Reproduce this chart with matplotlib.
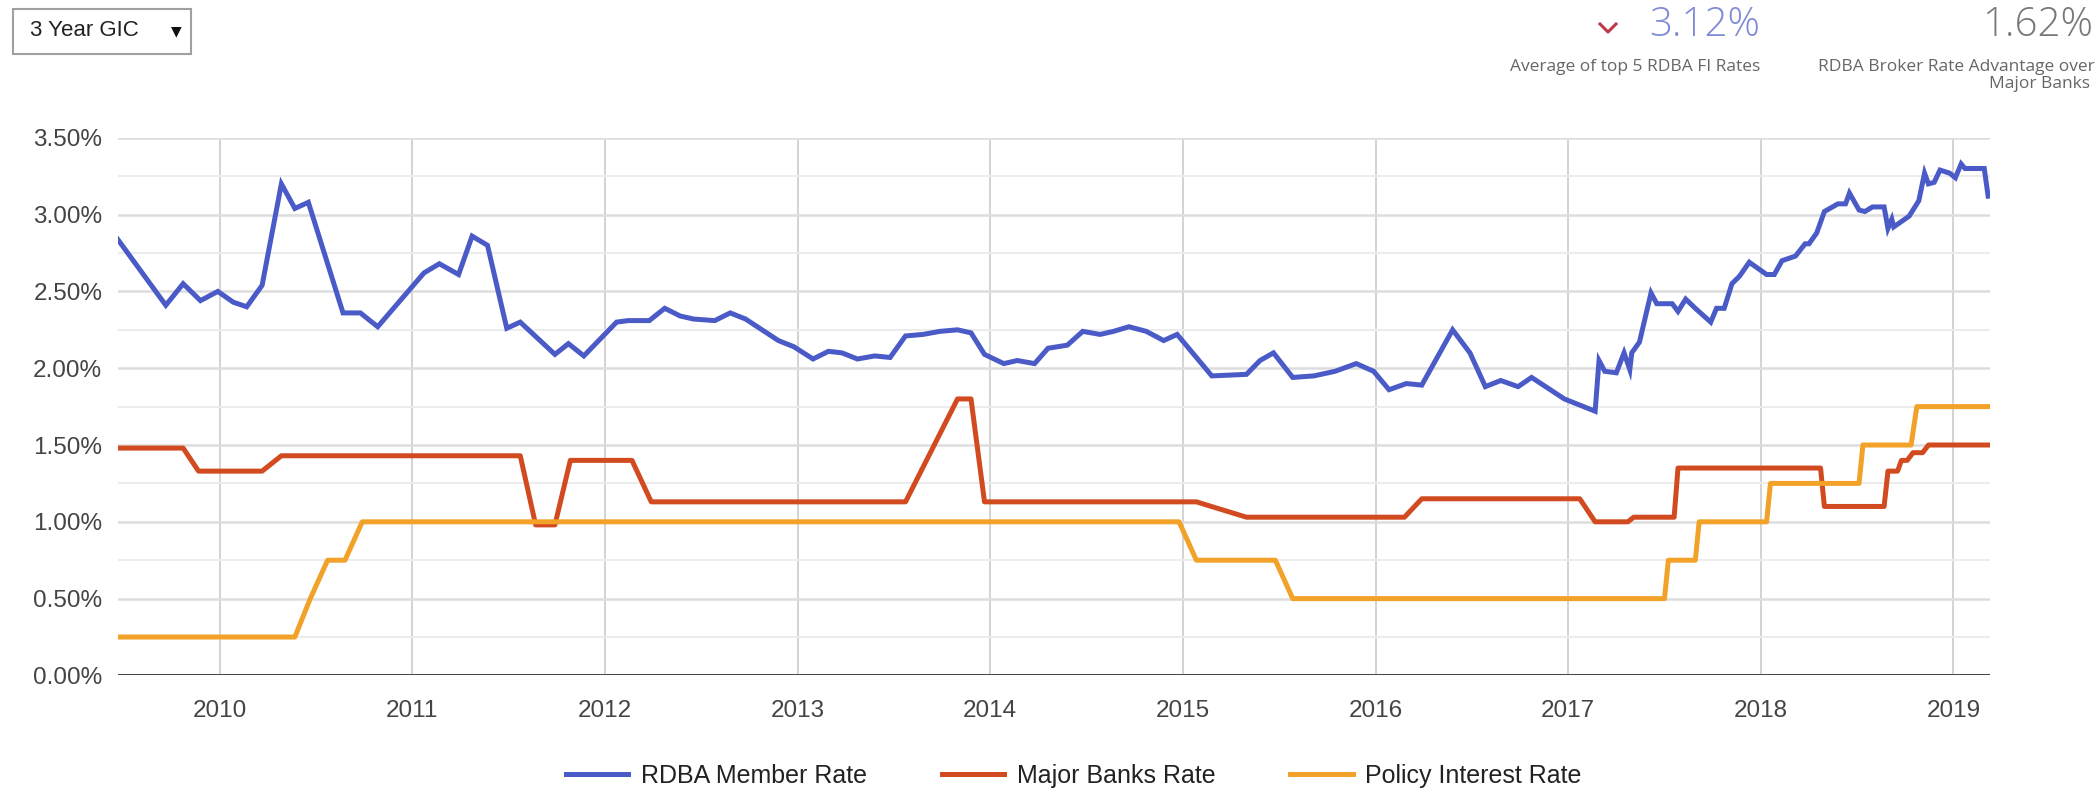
import matplotlib.pyplot as plt
from matplotlib.lines import Line2D
from matplotlib.patches import Rectangle
from matplotlib.ticker import FuncFormatter, MultipleLocator

# decimal-year dates, rates in %
member_x = [2009.47, 2009.72, 2009.81, 2009.90, 2009.99, 2010.07, 2010.14, 2010.22, 2010.32, 2010.39,
            2010.46, 2010.64, 2010.73, 2010.82, 2011.06, 2011.14, 2011.24, 2011.31, 2011.39, 2011.49,
            2011.56, 2011.74, 2011.81, 2011.89, 2012.06, 2012.12, 2012.23, 2012.31, 2012.39, 2012.46,
            2012.57, 2012.65, 2012.73, 2012.90, 2012.98, 2013.08, 2013.16, 2013.23, 2013.31, 2013.40,
            2013.48, 2013.56, 2013.65, 2013.74, 2013.83, 2013.90, 2013.97, 2014.07, 2014.14, 2014.23,
            2014.30, 2014.40, 2014.48, 2014.57, 2014.64, 2014.72, 2014.81, 2014.90, 2014.97, 2015.15,
            2015.33, 2015.40, 2015.47, 2015.57, 2015.68, 2015.79, 2015.90, 2015.99, 2016.07, 2016.16,
            2016.24, 2016.40, 2016.49, 2016.57, 2016.65, 2016.74, 2016.81, 2016.98, 2017.14, 2017.16,
            2017.19, 2017.25, 2017.29, 2017.32, 2017.33, 2017.37, 2017.43, 2017.46, 2017.54, 2017.57,
            2017.61, 2017.66, 2017.74, 2017.77, 2017.81, 2017.85, 2017.89, 2017.94, 2018.03, 2018.07,
            2018.11, 2018.18, 2018.23, 2018.25, 2018.29, 2018.33, 2018.40, 2018.44, 2018.46, 2018.51,
            2018.54, 2018.58, 2018.64, 2018.66, 2018.68, 2018.69, 2018.77, 2018.82, 2018.85, 2018.87,
            2018.90, 2018.93, 2018.98, 2019.01, 2019.04, 2019.06, 2019.16, 2019.18]
member_y = [2.84, 2.41, 2.55, 2.44, 2.50, 2.43, 2.40, 2.54, 3.20, 3.04,
            3.08, 2.36, 2.36, 2.27, 2.62, 2.68, 2.61, 2.86, 2.80, 2.26,
            2.30, 2.09, 2.16, 2.08, 2.30, 2.31, 2.31, 2.39, 2.34, 2.32,
            2.31, 2.36, 2.32, 2.18, 2.14, 2.06, 2.11, 2.10, 2.06, 2.08,
            2.07, 2.21, 2.22, 2.24, 2.25, 2.23, 2.09, 2.03, 2.05, 2.03,
            2.13, 2.15, 2.24, 2.22, 2.24, 2.27, 2.24, 2.18, 2.22, 1.95,
            1.96, 2.05, 2.10, 1.94, 1.95, 1.98, 2.03, 1.98, 1.86, 1.90,
            1.89, 2.25, 2.10, 1.88, 1.92, 1.88, 1.94, 1.80, 1.72, 2.05,
            1.98, 1.97, 2.10, 1.99, 2.10, 2.17, 2.49, 2.42, 2.42, 2.37,
            2.45, 2.39, 2.30, 2.39, 2.39, 2.55, 2.60, 2.69, 2.61, 2.61,
            2.70, 2.73, 2.81, 2.81, 2.88, 3.02, 3.07, 3.07, 3.14, 3.03,
            3.02, 3.05, 3.05, 2.91, 2.97, 2.92, 2.99, 3.09, 3.27, 3.20,
            3.21, 3.29, 3.27, 3.24, 3.33, 3.30, 3.30, 3.12]

banks_x = [2009.47, 2009.81, 2009.89, 2010.22, 2010.32, 2011.56, 2011.64, 2011.74, 2011.82, 2012.14,
           2012.24, 2013.56, 2013.83, 2013.90, 2013.97, 2015.07, 2015.33, 2016.15, 2016.24, 2017.06,
           2017.14, 2017.31, 2017.34, 2017.55, 2017.57, 2018.31, 2018.33, 2018.64, 2018.66, 2018.71,
           2018.73, 2018.76, 2018.79, 2018.84, 2018.87, 2019.18]
banks_y = [1.48, 1.48, 1.33, 1.33, 1.43, 1.43, 0.98, 0.98, 1.40, 1.40,
           1.13, 1.13, 1.80, 1.80, 1.13, 1.13, 1.03, 1.03, 1.15, 1.15,
           1.00, 1.00, 1.03, 1.03, 1.35, 1.35, 1.10, 1.10, 1.33, 1.33,
           1.40, 1.40, 1.45, 1.45, 1.50, 1.50]

policy_x = [2009.47, 2010.39, 2010.47, 2010.56, 2010.65, 2010.74, 2014.98, 2015.07, 2015.48, 2015.57,
            2017.50, 2017.52, 2017.66, 2017.68, 2018.03, 2018.05, 2018.51, 2018.53, 2018.78, 2018.81,
            2019.18]
policy_y = [0.25, 0.25, 0.50, 0.75, 0.75, 1.00, 1.00, 0.75, 0.75, 0.50,
            0.50, 0.75, 0.75, 1.00, 1.00, 1.25, 1.25, 1.50, 1.50, 1.75,
            1.75]

years = list(range(2010, 2020))
product = '3 Year GIC'
avg_top5 = '3.12%'
advantage = '1.62%'

plt.rcParams['font.family'] = ['Liberation Sans', 'DejaVu Sans']

fig = plt.figure(figsize=(20.97, 7.92), dpi=100)
ax = fig.add_axes([0.0561, 0.1472, 0.8929, 0.6788])

ax.plot(member_x, member_y, color='#4a5bc8', lw=3.6, label='RDBA Member Rate', solid_joinstyle='miter')
ax.plot(banks_x, banks_y, color='#d24a1f', lw=3.6, label='Major Banks Rate')
ax.plot(policy_x, policy_y, color='#f2a229', lw=3.6, label='Policy Interest Rate')

ax.set_xlim(2009.47, 2019.19)
ax.set_ylim(0, 3.5)
ax.set_xticks(years)
ax.yaxis.set_major_locator(MultipleLocator(0.5))
ax.yaxis.set_minor_locator(MultipleLocator(0.25))
ax.yaxis.set_major_formatter(FuncFormatter(lambda v, p: f'{v:.2f}%'))

ax.grid(axis='x', color='#cccccc', lw=1.2)
ax.grid(axis='y', which='major', color='#dddddd', lw=1.8)
ax.grid(axis='y', which='minor', color='#ececec', lw=1.4)
ax.set_axisbelow(True)
ax.axhline(0, color='#333333', lw=2, zorder=3)

for s in ax.spines.values():
    s.set_visible(False)
ax.tick_params(axis='both', which='both', length=0, labelsize=17.5, labelcolor='#444444')
ax.tick_params(axis='y', pad=11)
ax.tick_params(axis='x', pad=18)

fig.legend(loc='center', bbox_to_anchor=(0.512, 0.02), ncol=3, frameon=False,
           fontsize=18, handlelength=2.5, columnspacing=3.0, handletextpad=0.5,
           labelcolor='#222222')

# dropdown box top-left
fig.patches.append(Rectangle((13 / 2097, 1 - 54 / 792), 178 / 2097, 45 / 792,
                             transform=fig.transFigure, fill=False, ec='#a0a0a0', lw=1.5))
fig.text(30 / 2097, 1 - 31 / 792, product, fontsize=16, color='#222222', va='center')
fig.text(176 / 2097, 1 - 31 / 792, '\u25bc', fontsize=10, color='#111111', va='center', ha='center',
         family=['DejaVu Sans'])

# summary figures top-right
fig.text(1760 / 2097, 1 - 26 / 792, avg_top5, fontsize=29, color='#7f8ad6', ha='right', va='center',
         family=['Open Sans', 'DejaVu Sans'], fontweight='light')
fig.add_artist(Line2D([1600 / 2097, 1608 / 2097, 1616 / 2097], [1 - 24 / 792, 1 - 32 / 792, 1 - 24 / 792],
                      transform=fig.transFigure, color='#c0394a', lw=2.2))
fig.text(1760 / 2097, 1 - 67 / 792, 'Average of top 5 RDBA FI Rates', fontsize=12.5, color='#666666',
         ha='right', va='center', family=['Open Sans', 'DejaVu Sans'])
fig.text(2093 / 2097, 1 - 26 / 792, advantage, fontsize=29, color='#777777', ha='right', va='center',
         family=['Open Sans', 'DejaVu Sans'], fontweight='light')
fig.text(2095 / 2097, 1 - 67 / 792, 'RDBA Broker Rate Advantage over', fontsize=12.5, color='#666666',
         ha='right', va='center', family=['Open Sans', 'DejaVu Sans'])
fig.text(2090 / 2097, 1 - 84 / 792, 'Major Banks', fontsize=12.5, color='#666666',
         ha='right', va='center', family=['Open Sans', 'DejaVu Sans'])

fig.savefig('out.png', dpi=100, facecolor='white')
